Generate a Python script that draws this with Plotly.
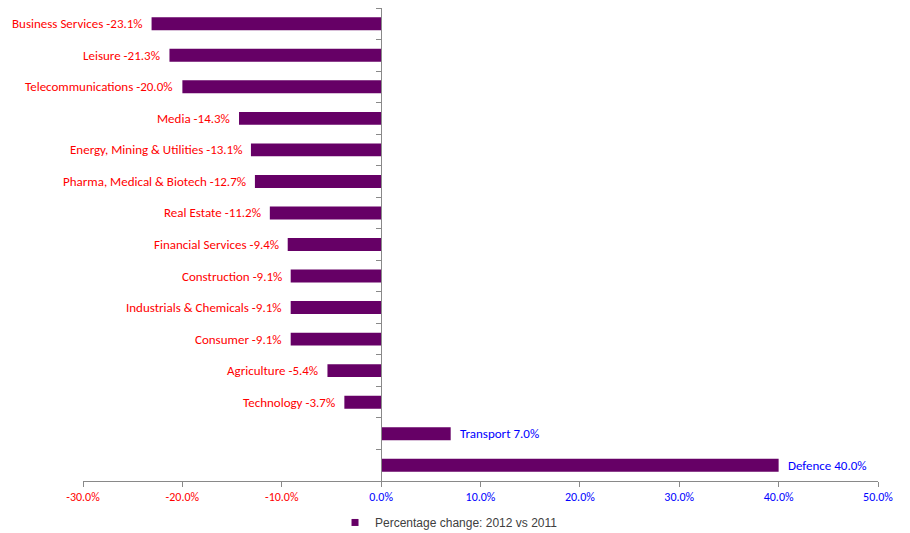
import plotly.graph_objects as go

sectors = ["Business Services", "Leisure", "Telecommunications", "Media",
           "Energy, Mining & Utilities", "Pharma, Medical & Biotech", "Real Estate",
           "Financial Services", "Construction", "Industrials & Chemicals",
           "Consumer", "Agriculture", "Technology", "Transport", "Defence"]
change_pct = [-23.1, -21.3, -20.0, -14.3, -13.1, -12.7, -11.2, -9.4, -9.1, -9.1,
              -9.1, -5.4, -3.7, 7.0, 40.0]
tick_vals = [-30, -20, -10, 0, 10, 20, 30, 40, 50]
series_name = "Percentage change: 2012 vs 2011"

RED = "#FF0000"
BLUE = "#0000FF"
BAR = "#660066"
LABEL_FONT = "Carlito, Calibri, Lato, sans-serif"

fig = go.Figure(go.Bar(
    y=sectors, x=change_pct, orientation="h",
    marker=dict(color=BAR, line=dict(width=0)),
    name=series_name, showlegend=False, hoverinfo="x+y",
))
# legend entry with a small square marker
fig.add_trace(go.Scatter(
    x=[None], y=[None], mode="markers", name=series_name,
    marker=dict(symbol="square", size=7, color=BAR), showlegend=True,
))

for s, v in zip(sectors, change_pct):
    neg = v < 0
    fig.add_annotation(
        x=v, y=s, xref="x", yref="y", text=f"{s} {v:.1f}%", showarrow=False,
        xanchor="right" if neg else "left", xshift=-7 if neg else 7,
        font=dict(color=RED if neg else BLUE, size=13, family=LABEL_FONT),
    )

tick_text = [f"<span style='color:{RED if t < 0 else BLUE}'>{t:.1f}%</span>" for t in tick_vals]

fig.update_layout(
    width=894, height=533,
    margin=dict(l=75, r=24, t=0, b=60),
    plot_bgcolor="white", paper_bgcolor="white",
    bargap=0.59,
    xaxis=dict(range=[-30, 50], tickvals=tick_vals, ticktext=tick_text,
               showgrid=False, zeroline=False, showline=True, linecolor="#898989",
               ticks="outside", ticklen=5, tickcolor="#898989", automargin=False,
               tickfont=dict(size=12, family=LABEL_FONT)),
    yaxis=dict(categoryorder="array", categoryarray=sectors, autorange="reversed",
               anchor="free", position=0.375, showticklabels=False, automargin=False,
               showgrid=False, zeroline=False, showline=True, linecolor="#898989",
               ticks="outside", ticklen=5, tickcolor="#898989", tickson="boundaries"),
    legend=dict(orientation="h", x=0.317, xanchor="left", y=-0.057, yanchor="top",
                font=dict(size=12, family="Liberation Sans, Arial", color="#404040"),
                itemwidth=30),
)

fig.write_html("out.html")
